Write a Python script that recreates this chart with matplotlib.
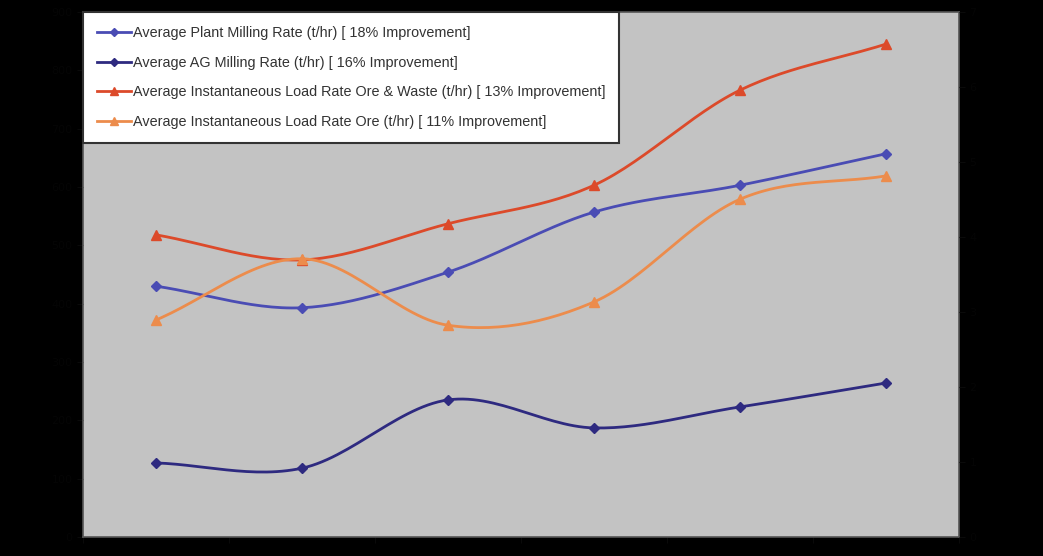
import numpy as np
import matplotlib
matplotlib.use("Agg")
import matplotlib.pyplot as plt
from matplotlib.lines import Line2D

categories = ["1", "2", "3", "4", "5", "6"]
plant_milling = [430, 393, 454, 557, 603, 657]
ag_milling = [127, 118, 235, 187, 223, 264]
load_ore_waste = [518, 475, 537, 603, 766, 845]
load_ore = [372, 477, 363, 403, 579, 619]

labels = [
    "Average Plant Milling Rate (t/hr) [ 18% Improvement]",
    "Average AG Milling Rate (t/hr) [ 16% Improvement]",
    "Average Instantaneous Load Rate Ore & Waste (t/hr) [ 13% Improvement]",
    "Average Instantaneous Load Rate Ore (t/hr) [ 11% Improvement]",
]
colors = ["#4a4cb4", "#2e2a80", "#dc4a2a", "#ec8c4c"]
markers = ["D", "D", "^", "^"]
msizes = [5, 5, 6.5, 6.5]
series = [plant_milling, ag_milling, load_ore_waste, load_ore]


def smooth(x, y, n=30):
    x = np.asarray(x, float)
    y = np.asarray(y, float)
    px = np.concatenate([[2 * x[0] - x[1]], x, [2 * x[-1] - x[-2]]])
    py = np.concatenate([[2 * y[0] - y[1]], y, [2 * y[-1] - y[-2]]])
    xs, ys = [], []
    t = np.linspace(0, 1, n)
    for i in range(1, len(px) - 2):
        for arr, out in ((px, xs), (py, ys)):
            p0, p1, p2, p3 = arr[i - 1], arr[i], arr[i + 1], arr[i + 2]
            seg = 0.5 * ((2 * p1) + (-p0 + p2) * t + (2 * p0 - 5 * p1 + 4 * p2 - p3) * t ** 2
                         + (-p0 + 3 * p1 - 3 * p2 + p3) * t ** 3)
            out.extend(seg)
    return np.array(xs), np.array(ys)


fig = plt.figure(figsize=(10.43, 5.56), dpi=100, facecolor="black")
ax = fig.add_axes([83 / 1043, 19 / 556, 876 / 1043, 525 / 556])
ax.set_facecolor("#c3c3c3")
x = np.arange(len(categories))
for vals, c, m, ms in zip(series, colors, markers, msizes):
    sx, sy = smooth(x, vals)
    ax.plot(sx, sy, color=c, lw=2.0, solid_capstyle="round")
    ax.plot(x, vals, linestyle="none", marker=m, color=c, markersize=ms)

ax.set_xlim(-0.5, len(categories) - 0.5)
ax.set_ylim(0, 900)
ax.set_yticks(np.arange(0, 901, 100))
ax.set_xticks(np.arange(-0.5, len(categories), 1.0))
ax.set_xticklabels([])
ax.tick_params(axis="both", colors="#0a0a0a", labelcolor="#050505", labelsize=8, direction="out", length=4)
for s in ax.spines.values():
    s.set_color("#555555")
    s.set_linewidth(1.2)

ax2 = ax.twinx()
ax2.set_ylim(0, 7)
ax2.set_yticks(np.arange(0, 8, 1))
ax2.tick_params(axis="y", colors="#0a0a0a", labelcolor="#050505", labelsize=8, length=4)
for s in ax2.spines.values():
    s.set_visible(False)

handles = [Line2D([0], [0], color=c, marker=m, lw=2.0, markersize=ms * 0.9)
           for c, m, ms in zip(colors, markers, msizes)]
leg = ax.legend(handles, labels, loc="upper left", bbox_to_anchor=(0.0, 1.0), frameon=True,
                fancybox=False, framealpha=1.0, facecolor="white", edgecolor="#333333",
                prop={"family": "Liberation Sans", "size": 10.4},
                handlelength=2.4, handletextpad=0.1, labelspacing=1.1, borderpad=0.95,
                borderaxespad=0.0)
for t in leg.get_texts():
    t.set_color("#333333")
leg.get_frame().set_linewidth(1.5)

fig.savefig("out.png", dpi=100, facecolor="black")
